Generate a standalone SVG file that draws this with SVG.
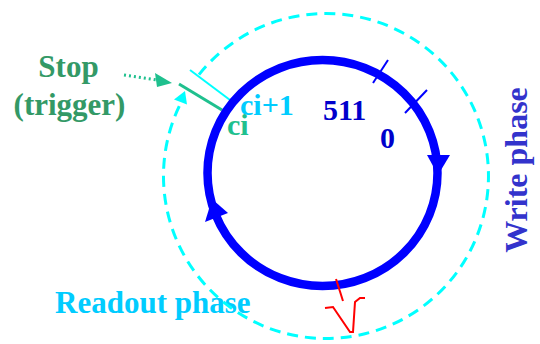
<svg xmlns="http://www.w3.org/2000/svg" width="540" height="344" viewBox="0 0 540 344">
  <style>
    .lbl { font-family: "Liberation Serif", "Times New Roman", serif; font-weight: bold; }
    .blue { fill: #0000cc; }
    .cyan { fill: #00ccff; }
    .green { fill: #339966; }
    .teal { fill: #1fc08e; }
  </style>
  <rect width="540" height="344" fill="#ffffff"/>

  <g id="readout-label">
    <text class="lbl cyan" x="55" y="313" font-size="31">Readout phase</text>
  </g>

  <g id="connectors">
    <!-- readout phase dashed ring -->
    <path d="M199,74.6 A162.5,162.5 0 1 1 180.8,103" fill="none" stroke="#00ffff" stroke-width="3" stroke-dasharray="11 7"/>
    <polygon points="185,91 174,99.4 187,104.6" fill="#00ffff"/>
    <!-- trigger dotted arrow -->
    <line x1="124" y1="75" x2="157" y2="80" stroke="#1fc08e" stroke-width="3" stroke-dasharray="2 3"/>
    <polygon points="155,73 157,87 172,83" fill="#1fc08e"/>
    <!-- ci+1 and ci markers -->
    <line x1="190" y1="70" x2="230" y2="100" stroke="#00ffff" stroke-width="2"/>
    <line x1="179" y1="84" x2="222" y2="110" stroke="#1fc08e" stroke-width="3"/>
  </g>

  <g id="write-ring">
    <ellipse cx="322.5" cy="173" rx="115" ry="113" fill="none" stroke="#0000ff" stroke-width="8.5"/>
    <polygon points="427,155 450,155 438,175" fill="#0000ff"/>
    <polygon points="205,222 228,213 212,199" fill="#0000ff"/>
    <line x1="373" y1="83" x2="388" y2="60" stroke="#0000ff" stroke-width="2"/>
    <line x1="405" y1="113" x2="427" y2="90" stroke="#0000ff" stroke-width="2"/>
  </g>

  <g id="trigger-signal">
    <line x1="336" y1="279" x2="343" y2="301" stroke="#ff0000" stroke-width="2"/>
    <polyline points="325,308 333,307 350,332 353,332 355,302 360,298 365,298" fill="none" stroke="#ff0000" stroke-width="2"/>
  </g>

  <g id="stop-label">
    <text class="lbl green" x="68.5" y="77" font-size="31" text-anchor="middle">Stop</text>
    <text class="lbl green" x="69.5" y="115" font-size="31" text-anchor="middle">(trigger)</text>
  </g>

  <g id="cell-labels">
    <text class="lbl cyan" x="240" y="115" font-size="30">ci+1</text>
    <text class="lbl teal" x="227" y="135" font-size="30">ci</text>
    <text class="lbl blue" x="323" y="120" font-size="30">511</text>
    <text class="lbl blue" x="380" y="148" font-size="30">0</text>
  </g>

  <g id="write-label">
    <text class="lbl" fill="#3333cc" font-size="32" text-anchor="middle" transform="translate(527,170) rotate(-90)">Write phase</text>
  </g>
</svg>
